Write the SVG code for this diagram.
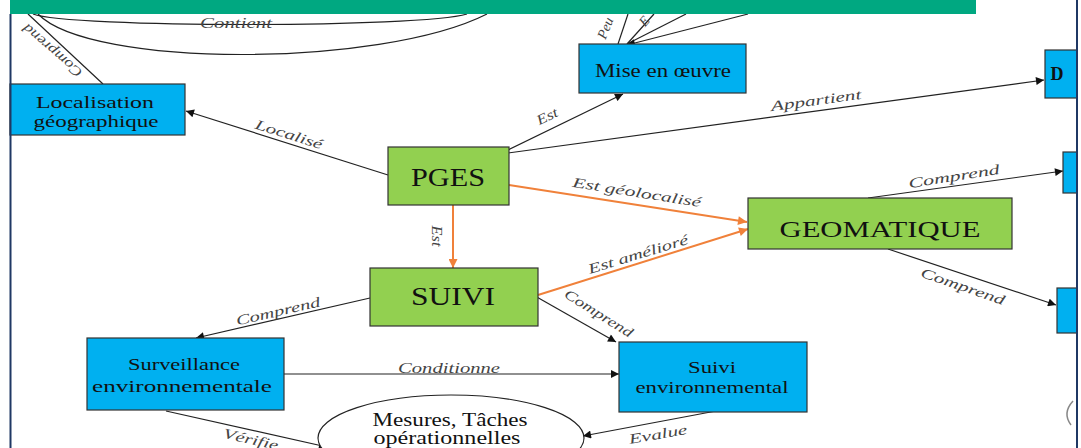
<svg xmlns="http://www.w3.org/2000/svg" width="1081" height="448" viewBox="0 0 1081 448">
<style>
.blue{fill:#00B0F0;stroke:#333;stroke-width:1.2}
.green{fill:#92D050;stroke:#333;stroke-width:1.2}
.nt{font-family:"Liberation Serif","Times New Roman",serif;fill:#111;text-anchor:middle}
.lb{font-family:"Liberation Serif","Times New Roman",serif;font-style:italic;font-size:14px;fill:#444;text-anchor:middle}
.k{stroke:#222;stroke-width:1.2;fill:none}
.o{stroke:#F0813A;stroke-width:2;fill:none}
</style>
<defs>
<marker id="ab" viewBox="0 0 10 10" refX="10" refY="5" markerWidth="10" markerHeight="8" markerUnits="userSpaceOnUse" orient="auto"><path d="M0,0 L10,5 L0,10 z" fill="#111"/></marker>
<marker id="ao" viewBox="0 0 10 10" refX="10" refY="5" markerWidth="11" markerHeight="9" markerUnits="userSpaceOnUse" orient="auto"><path d="M0,0 L10,5 L0,10 z" fill="#F0813A"/></marker>
<clipPath id="cp"><rect x="0" y="0" width="1077" height="448"/></clipPath>
</defs>
<rect width="1081" height="448" fill="#fff"/>
<g clip-path="url(#cp)">
<g id="connectors">
<path class="k" d="M33,14 C70,28 420,28 467,14"/>
<path class="k" d="M38,14 C90,68 380,68 487,14"/>
<path class="k" d="M28,14 L103,84"/>
<path class="k" d="M618,44 L628,14"/>
<path class="k" d="M627,44 L654,14"/>
<path class="k" d="M627,44 L686,14"/>
<path class="k" d="M748,14 L627,45" marker-end="url(#ab)"/>
<path class="k" d="M388,175 L186,111" marker-end="url(#ab)"/>
<path class="k" d="M508,150 L623,94" marker-end="url(#ab)"/>
<path class="k" d="M508,153 L1044,80" marker-end="url(#ab)"/>
<path class="o" d="M509,185 L747,222" marker-end="url(#ao)"/>
<path class="o" d="M453,205 L453,268" marker-end="url(#ao)"/>
<path class="o" d="M538,295 L748,229" marker-end="url(#ao)"/>
<path class="k" d="M535,296 L616,342" marker-end="url(#ab)"/>
<path class="k" d="M370,298 L196,338" marker-end="url(#ab)"/>
<path class="k" d="M284,374 L619,374" marker-end="url(#ab)"/>
<path class="k" d="M166,411 L327,447" marker-end="url(#ab)"/>
<path class="k" d="M716,411 L583,436" marker-end="url(#ab)"/>
<path class="k" d="M868,198 L1063,171" marker-end="url(#ab)"/>
<path class="k" d="M888,249 L1056,305" marker-end="url(#ab)"/>
<text class="lb" transform="translate(236,23)" y="5" textLength="72" lengthAdjust="spacingAndGlyphs">Contient</text>
<text class="lb" transform="translate(52,51) rotate(221)" y="5" textLength="74" lengthAdjust="spacingAndGlyphs">Comprend</text>
<text class="lb" transform="translate(605,28) rotate(-68)" y="5">Peu</text>
<text class="lb" transform="translate(644,21) rotate(-50)" y="5">E</text>
<text class="lb" transform="translate(289,134) rotate(17.6)" y="5" textLength="70" lengthAdjust="spacingAndGlyphs">Localisé</text>
<text class="lb" transform="translate(547,116) rotate(-26)" y="5" textLength="22" lengthAdjust="spacingAndGlyphs">Est</text>
<text class="lb" transform="translate(816,100) rotate(-7.7)" y="5" textLength="91" lengthAdjust="spacingAndGlyphs">Appartient</text>
<text class="lb" transform="translate(637,192) rotate(9)" y="5" textLength="130" lengthAdjust="spacingAndGlyphs">Est géolocalisé</text>
<text class="lb" transform="translate(437,236) rotate(90)" y="5" textLength="21" lengthAdjust="spacingAndGlyphs">Est</text>
<text class="lb" transform="translate(638,254) rotate(-17)" y="5" textLength="104" lengthAdjust="spacingAndGlyphs">Est amélioré</text>
<text class="lb" transform="translate(599,313) rotate(32)" y="5" textLength="78" lengthAdjust="spacingAndGlyphs">Comprend</text>
<text class="lb" transform="translate(278,311) rotate(-13)" y="5" textLength="86" lengthAdjust="spacingAndGlyphs">Comprend</text>
<text class="lb" transform="translate(449,368)" y="5" textLength="102" lengthAdjust="spacingAndGlyphs">Conditionne</text>
<text class="lb" transform="translate(251,439) rotate(13)" y="5" textLength="56" lengthAdjust="spacingAndGlyphs">Vérifie</text>
<text class="lb" transform="translate(658,434) rotate(-10)" y="5" textLength="59" lengthAdjust="spacingAndGlyphs">Evalue</text>
<text class="lb" transform="translate(954,176) rotate(-9)" y="5" textLength="92" lengthAdjust="spacingAndGlyphs">Comprend</text>
<text class="lb" transform="translate(963,286) rotate(19)" y="5" textLength="88" lengthAdjust="spacingAndGlyphs">Comprend</text>
</g>
<g id="localisation">
<rect class="blue" x="10" y="84" width="175" height="51"/>
<text class="nt" x="95" y="108" font-size="17" textLength="118" lengthAdjust="spacingAndGlyphs">Localisation</text>
<text class="nt" x="96" y="127" font-size="17" textLength="125" lengthAdjust="spacingAndGlyphs">géographique</text>
</g>
<g id="mise">
<rect class="blue" x="579" y="44" width="167" height="49"/>
<text class="nt" x="663" y="77" font-size="18" textLength="136" lengthAdjust="spacingAndGlyphs">Mise en œuvre</text>
</g>
<g id="d">
<rect class="blue" x="1045" y="50" width="40" height="48"/>
<text class="nt" x="1057" y="80" font-size="18" font-weight="bold">D</text>
</g>
<g id="r2"><rect class="blue" x="1063" y="152" width="30" height="41"/></g>
<g id="r3"><rect class="blue" x="1057" y="288" width="30" height="45"/></g>
<g id="pges">
<rect class="green" x="388" y="147" width="121" height="58"/>
<text class="nt" x="448" y="186" font-size="25" textLength="74" lengthAdjust="spacingAndGlyphs">PGES</text>
</g>
<g id="suivi">
<rect class="green" x="370" y="268" width="168" height="58"/>
<text class="nt" x="453" y="305" font-size="25" textLength="84" lengthAdjust="spacingAndGlyphs">SUIVI</text>
</g>
<g id="geomatique">
<rect class="green" x="748" y="198" width="264" height="51"/>
<text class="nt" x="880" y="237" font-size="23" textLength="201" lengthAdjust="spacingAndGlyphs">GEOMATIQUE</text>
</g>
<g id="surveillance">
<rect class="blue" x="87" y="338" width="197" height="72"/>
<text class="nt" x="184" y="370" font-size="17" textLength="112" lengthAdjust="spacingAndGlyphs">Surveillance</text>
<text class="nt" x="182" y="392" font-size="17" textLength="180" lengthAdjust="spacingAndGlyphs">environnementale</text>
</g>
<g id="suivienv">
<rect class="blue" x="619" y="342" width="188" height="70"/>
<text class="nt" x="712" y="373" font-size="17" textLength="48" lengthAdjust="spacingAndGlyphs">Suivi</text>
<text class="nt" x="712" y="393" font-size="17" textLength="153" lengthAdjust="spacingAndGlyphs">environnemental</text>
</g>
<g id="mesures">
<ellipse cx="451" cy="438" rx="133" ry="43" fill="#fff" stroke="#222" stroke-width="1.2"/>
<text class="nt" x="450" y="426" font-size="18" textLength="155" lengthAdjust="spacingAndGlyphs">Mesures, Tâches</text>
<text class="nt" x="447" y="444" font-size="18" textLength="147" lengthAdjust="spacingAndGlyphs">opérationnelles</text>
</g>
<path d="M1073,401 Q1062,413 1071,425" fill="none" stroke="#888" stroke-width="1.5"/>
</g>
<rect x="10" y="0" width="966" height="14" fill="#00A881"/>
<line x1="10.5" y1="14" x2="10.5" y2="448" stroke="#1F3864" stroke-width="2"/>
<line x1="1077" y1="0" x2="1077" y2="448" stroke="#1F3864" stroke-width="2"/>
</svg>
